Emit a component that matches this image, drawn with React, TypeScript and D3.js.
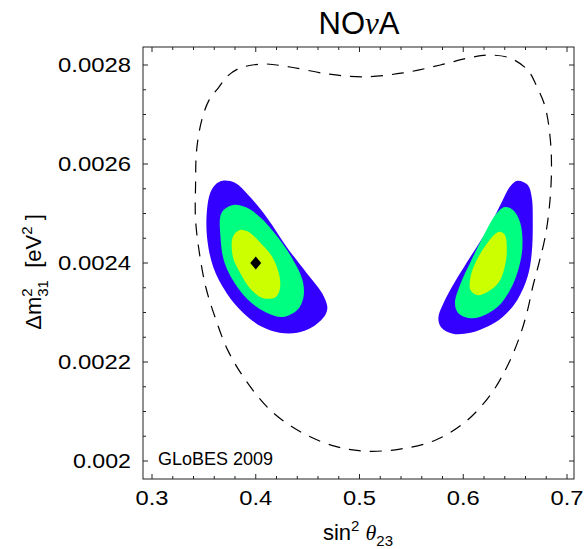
import React from "react";
import * as d3 from "d3";

// ---- data (sin^2 theta23, Delta m^2_31 [eV^2]) ----
const xTicks = [0.3, 0.4, 0.5, 0.6, 0.7];
const xTickLabels = ["0.3", "0.4", "0.5", "0.6", "0.7"];
const yTicks = [0.002, 0.0022, 0.0024, 0.0026, 0.0028];
const yTickLabels = ["0.002", "0.0022", "0.0024", "0.0026", "0.0028"];
const xMinorStep = 0.02;
const yMinorStep = 0.00005;

const bestFit: [number, number] = [0.4, 0.0024];

const dashedContour: [number, number][] = [
  [0.364, 0.002754], [0.373, 0.002778], [0.385, 0.002794], [0.407, 0.002802], [0.433, 0.002796],
  [0.469, 0.002782], [0.503, 0.002776], [0.542, 0.002784], [0.578, 0.0028], [0.609, 0.002816],
  [0.626, 0.00282], [0.645, 0.002814], [0.662, 0.00279], [0.671, 0.002756], [0.679, 0.002715],
  [0.684, 0.002648], [0.685, 0.002582], [0.683, 0.002513], [0.679, 0.002453], [0.673, 0.0024],
  [0.667, 0.002352], [0.662, 0.002305], [0.655, 0.002255], [0.643, 0.002194], [0.626, 0.002133],
  [0.602, 0.002079], [0.573, 0.002042], [0.539, 0.002024], [0.505, 0.00202], [0.476, 0.00203],
  [0.443, 0.002059], [0.414, 0.002103], [0.39, 0.002164], [0.373, 0.002224], [0.361, 0.002289],
  [0.352, 0.00235], [0.346, 0.002416], [0.342, 0.002487], [0.342, 0.002558], [0.343, 0.002628],
  [0.348, 0.002689], [0.355, 0.002729],
];

const leftBlue: [number, number][] = [
  [0.361, 0.002558], [0.368, 0.002566], [0.38, 0.002562], [0.393, 0.002537], [0.411, 0.002491],
  [0.43, 0.002432], [0.449, 0.00238], [0.464, 0.002339], [0.469, 0.002311], [0.467, 0.002295],
  [0.455, 0.002271], [0.44, 0.002259], [0.423, 0.002259], [0.406, 0.002271], [0.388, 0.002299],
  [0.372, 0.002339], [0.359, 0.002392], [0.353, 0.002453], [0.353, 0.002507], [0.356, 0.002541],
];
const leftGreen: [number, number][] = [
  [0.367, 0.002501], [0.378, 0.002517], [0.39, 0.002513], [0.404, 0.002493], [0.421, 0.002453],
  [0.436, 0.002406], [0.445, 0.002366], [0.446, 0.002331], [0.44, 0.002305], [0.426, 0.002291],
  [0.411, 0.002299], [0.396, 0.002319], [0.382, 0.002352], [0.37, 0.0024], [0.366, 0.002453],
];
const leftYellow: [number, number][] = [
  [0.378, 0.002453], [0.385, 0.002467], [0.393, 0.002463], [0.404, 0.002442], [0.416, 0.002412],
  [0.423, 0.002372], [0.423, 0.002345], [0.419, 0.002331], [0.407, 0.002329], [0.396, 0.002345],
  [0.385, 0.00238], [0.378, 0.002412],
];

const rightBlue: [number, number][] = [
  [0.652, 0.002566], [0.662, 0.002558], [0.666, 0.002533], [0.667, 0.002481], [0.666, 0.00242],
  [0.662, 0.002372], [0.652, 0.002325], [0.638, 0.002291], [0.623, 0.002271], [0.607, 0.002259],
  [0.59, 0.002257], [0.579, 0.002269], [0.576, 0.002289], [0.581, 0.002319], [0.592, 0.002362],
  [0.608, 0.002416], [0.626, 0.002477], [0.638, 0.002527], [0.645, 0.002554],
];
const rightGreen: [number, number][] = [
  [0.64, 0.002513], [0.648, 0.002507], [0.655, 0.002481], [0.657, 0.002432], [0.653, 0.002386],
  [0.645, 0.002345], [0.633, 0.002311], [0.616, 0.002291], [0.605, 0.002289], [0.595, 0.002299],
  [0.592, 0.002319], [0.597, 0.002356], [0.607, 0.002402], [0.619, 0.002453], [0.631, 0.002497],
];
const rightYellow: [number, number][] = [
  [0.635, 0.002463], [0.64, 0.002457], [0.642, 0.002426], [0.64, 0.002392], [0.634, 0.00236],
  [0.623, 0.002341], [0.614, 0.002335], [0.607, 0.002345], [0.607, 0.002372], [0.613, 0.002406],
  [0.623, 0.00244], [0.631, 0.002459],
];

const BLUE = "#3300ff";
const GREEN = "#00ff80";
const YELLOW = "#ccff00";

export default function App() {
  const W = 586, H = 549;
  const frame = { left: 143, right: 574, top: 47, bottom: 479 };
  const x = d3.scaleLinear().domain([0.3, 0.7]).range([152, 567]);
  const y = d3.scaleLinear().domain([0.002, 0.0028]).range([461, 65]);

  const xDom = [x.invert(frame.left), x.invert(frame.right)];
  const yDom = [y.invert(frame.bottom), y.invert(frame.top)];

  const closed = d3
    .line<[number, number]>()
    .x((d) => x(d[0]))
    .y((d) => y(d[1]))
    .curve(d3.curveCatmullRomClosed.alpha(0.5));

  const xMinor: number[] = [];
  for (let i = Math.ceil(xDom[0] / xMinorStep - 1e-6); i * xMinorStep <= xDom[1] + 1e-9; i++) {
    const v = i * xMinorStep;
    if (!xTicks.some((t) => Math.abs(t - v) < 1e-6)) xMinor.push(v);
  }
  const yMinor: number[] = [];
  for (let i = Math.ceil(yDom[0] / yMinorStep - 1e-6); i * yMinorStep <= yDom[1] + 1e-12; i++) {
    const v = i * yMinorStep;
    if (!yTicks.some((t) => Math.abs(t - v) < 1e-9)) yMinor.push(v);
  }

  const major = 5, minor = 3;
  const font = "Liberation Sans, Arial, Helvetica, sans-serif";
  const [bx, by] = [x(bestFit[0]), y(bestFit[1])];

  return (
    <svg width={W} height={H} style={{ position: "absolute", left: 0, top: 0, background: "#fff" }}
      fontFamily={font}>
      <rect x={0} y={0} width={W} height={H} fill="#fff" />
      {/* regions */}
      <path d={closed(leftBlue) || ""} fill={BLUE} />
      <path d={closed(leftGreen) || ""} fill={GREEN} />
      <path d={closed(leftYellow) || ""} fill={YELLOW} />
      <path d={closed(rightBlue) || ""} fill={BLUE} />
      <path d={closed(rightGreen) || ""} fill={GREEN} />
      <path d={closed(rightYellow) || ""} fill={YELLOW} />
      <path d={closed(dashedContour) || ""} fill="none" stroke="#000" strokeWidth={1.2} strokeDasharray="12,9" />
      <path d={`M${bx},${by - 6.5}L${bx + 5.5},${by}L${bx},${by + 6.5}L${bx - 5.5},${by}Z`} fill="#000" />

      {/* frame */}
      <rect x={frame.left} y={frame.top} width={frame.right - frame.left} height={frame.bottom - frame.top}
        fill="none" stroke="#222" strokeWidth={1} />
      {xTicks.map((t) => (
        <g key={"xt" + t} stroke="#222">
          <line x1={x(t)} x2={x(t)} y1={frame.bottom} y2={frame.bottom - major} />
          <line x1={x(t)} x2={x(t)} y1={frame.top} y2={frame.top + major} />
        </g>
      ))}
      {xMinor.map((t) => (
        <g key={"xm" + t} stroke="#222">
          <line x1={x(t)} x2={x(t)} y1={frame.bottom} y2={frame.bottom - minor} />
          <line x1={x(t)} x2={x(t)} y1={frame.top} y2={frame.top + minor} />
        </g>
      ))}
      {yTicks.map((t) => (
        <g key={"yt" + t} stroke="#222">
          <line x1={frame.left} x2={frame.left + major} y1={y(t)} y2={y(t)} />
          <line x1={frame.right} x2={frame.right - major} y1={y(t)} y2={y(t)} />
        </g>
      ))}
      {yMinor.map((t) => (
        <g key={"ym" + t} stroke="#222">
          <line x1={frame.left} x2={frame.left + minor} y1={y(t)} y2={y(t)} />
          <line x1={frame.right} x2={frame.right - minor} y1={y(t)} y2={y(t)} />
        </g>
      ))}

      {/* tick labels */}
      {xTicks.map((t, i) => (
        <text key={"xl" + t} x={x(t)} y={505} textAnchor="middle" fontSize={20}
          textLength={33} lengthAdjust="spacingAndGlyphs">{xTickLabels[i]}</text>
      ))}
      {yTicks.map((t, i) => {
        const w = yTickLabels[i].length === 6 ? 73 : 58;
        return (
          <text key={"yl" + t} x={131 - w} y={y(t) + 7} fontSize={20}
            textLength={w} lengthAdjust="spacingAndGlyphs">{yTickLabels[i]}</text>
        );
      })}

      {/* title */}
      <text x={359} y={34} textAnchor="middle" fontSize={31}>
        NO<tspan fontFamily="Liberation Serif, serif" fontStyle="italic">ν</tspan>A
      </text>

      {/* x axis title */}
      <text x={358} y={540} textAnchor="middle" fontSize={22}>
        sin<tspan dy={-9} fontSize={15}>2</tspan>
        <tspan dy={9}> </tspan>
        <tspan fontFamily="Liberation Serif, serif" fontStyle="italic">θ</tspan>
        <tspan dy={6} fontSize={15}>23</tspan>
      </text>

      {/* y axis title */}
      <text transform={`translate(41,272) rotate(-90)`} textAnchor="middle" fontSize={22}>
        Δm<tspan dy={-9} fontSize={15}>2</tspan>
        <tspan dx={-8.3} dy={16} fontSize={15}>31</tspan>
        <tspan dy={-7}>{"\u00a0 [eV"}</tspan>
        <tspan dy={-9} fontSize={15}>2</tspan>
        <tspan dy={9}>{"\u00a0]"}</tspan>
      </text>

      <text x={158} y={465} fontSize={18}>GLoBES 2009</text>
    </svg>
  );
}
